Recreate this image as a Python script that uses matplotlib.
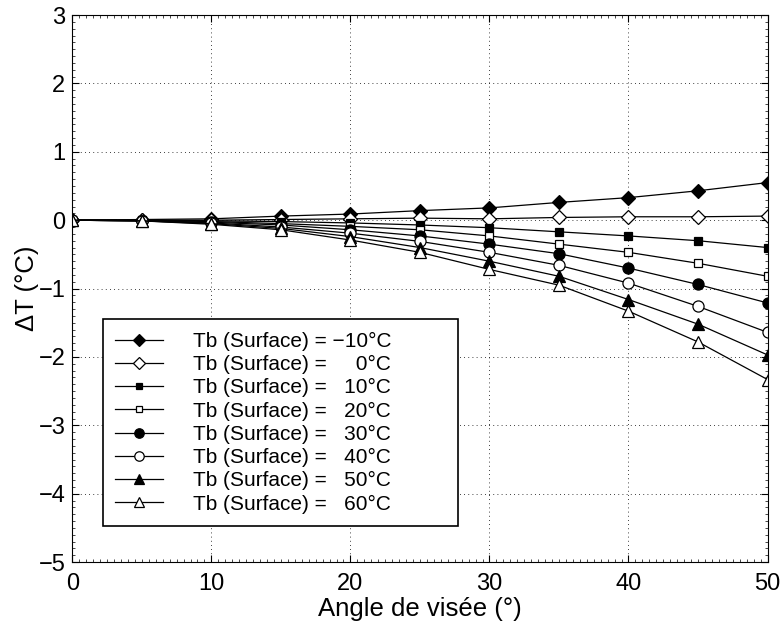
import matplotlib
matplotlib.use('Agg')
import matplotlib.pyplot as plt
from matplotlib.ticker import MultipleLocator

plt.rcParams['font.family'] = ['Liberation Sans', 'DejaVu Sans']

# viewing angle (deg)
angles = [0, 5, 10, 15, 20, 25, 30, 35, 40, 45, 50]

# surface brightness temperature (deg C) and delta T per angle
surface_temps = [-10, 0, 10, 20, 30, 40, 50, 60]
dt_m10 = [0, 0.01, 0.02, 0.06, 0.09, 0.14, 0.18, 0.26, 0.33, 0.43, 0.55]
dt_0 = [0, 0.00, 0.00, 0.01, 0.02, 0.03, 0.02, 0.04, 0.05, 0.05, 0.06]
dt_10 = [0, 0.00, -0.01, -0.02, -0.04, -0.07, -0.11, -0.17, -0.23, -0.30, -0.40]
dt_20 = [0, 0.00, -0.02, -0.05, -0.09, -0.14, -0.23, -0.35, -0.47, -0.63, -0.82]
dt_30 = [0, -0.01, -0.03, -0.07, -0.14, -0.23, -0.35, -0.49, -0.70, -0.94, -1.21]
dt_40 = [0, -0.01, -0.04, -0.10, -0.19, -0.31, -0.47, -0.66, -0.92, -1.26, -1.64]
dt_50 = [0, -0.01, -0.05, -0.12, -0.24, -0.40, -0.60, -0.82, -1.16, -1.52, -1.97]
dt_60 = [0, -0.01, -0.06, -0.14, -0.29, -0.47, -0.72, -0.95, -1.33, -1.78, -2.33]
series = [dt_m10, dt_0, dt_10, dt_20, dt_30, dt_40, dt_50, dt_60]

# (marker, filled, size)
styles = [('D', True, 7), ('D', False, 7), ('s', True, 5.5), ('s', False, 5.5),
          ('o', True, 8), ('o', False, 8), ('^', True, 8), ('^', False, 8)]


def label_for(t):
    num = f'{abs(t)}°C'
    num = ('\u2212' if t < 0 else '') + num
    pad = '\u2007' * (len('-10') - len(str(t)))
    return f'Tb (Surface) = {pad}{num}'


fig = plt.figure(figsize=(7.82, 6.26), dpi=100)
ax = fig.add_axes([0.0925, 0.102, 0.889, 0.874])

for t, vals, (m, filled, ms) in zip(surface_temps, series, styles):
    ax.plot(angles, vals, '-', color='black', linewidth=0.9, marker=m,
            markersize=ms, markerfacecolor='black' if filled else 'white',
            markeredgecolor='black', markeredgewidth=0.9, label=label_for(t))

ax.set_xlim(0, 50)
ax.set_ylim(-5, 3)
ax.xaxis.set_major_locator(MultipleLocator(10))
ax.yaxis.set_major_locator(MultipleLocator(1))
ax.xaxis.set_minor_locator(MultipleLocator(0.5))
ax.yaxis.set_minor_locator(MultipleLocator(0.1))
ax.tick_params(which='both', direction='in', top=True, right=True,
               labelsize=17)
ax.tick_params(axis='x', pad=8)
ax.tick_params(axis='y', pad=5)
ax.tick_params(which='major', length=5, width=0.8)
ax.tick_params(which='minor', length=2, width=0.5)
ax.grid(True, which='major', color='black', linestyle=(0, (1, 4)),
        linewidth=0.6)
for s in ax.spines.values():
    s.set_linewidth(0.8)

ax.set_xlabel('Angle de visée (°)', fontsize=18.5, labelpad=1)
ax.set_ylabel('ΔT (°C)', fontsize=18.5, labelpad=0)

leg = ax.legend(loc='lower left', bbox_to_anchor=(0.044, 0.066, 0.511, 0.3),
                mode='expand', fontsize=15, frameon=True, fancybox=False,
                edgecolor='black', framealpha=1, labelspacing=0.2,
                handlelength=2.3, handletextpad=1.4, borderpad=0.6,
                borderaxespad=0, markerscale=0.85)
leg.get_frame().set_linewidth(1.2)

fig.savefig('out.png', dpi=100)
